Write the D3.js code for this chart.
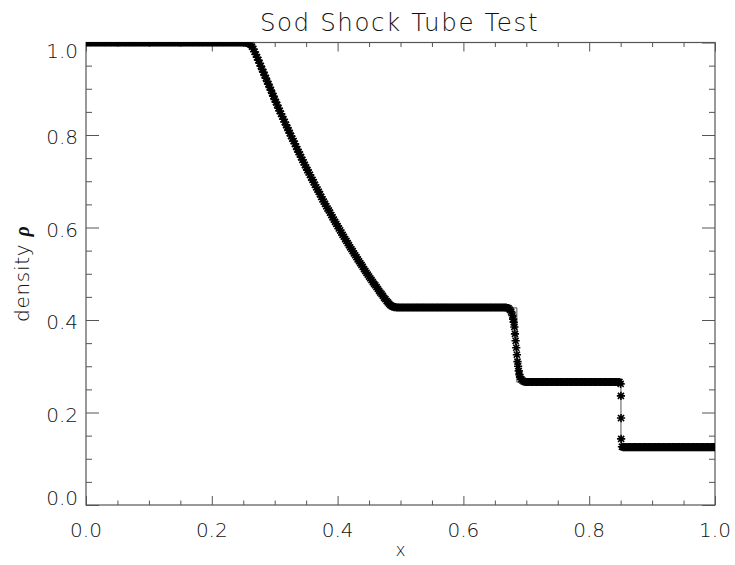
<!DOCTYPE html>
<html>
<head>
<meta charset="utf-8">
<script src="https://cdn.jsdelivr.net/npm/d3@7"></script>
<style>
  body { margin: 0; background: #fff; }
  text { font-family: "DejaVu Sans", "Liberation Sans", sans-serif; font-weight: 200; fill: #111; }
</style>
</head>
<body>
<svg id="chart" width="735" height="565"></svg>
<script>
// ---- labels ----
const chartTitle = "Sod Shock Tube Test";
const xTitle = "x";
const yTitle = "density ";
const yTitleSymbol = "ρ";
const majorTicks = [0.0, 0.2, 0.4, 0.6, 0.8, 1.0];
const minorTickStep = 0.05;

// ---- simulated cells: uniform grid, spacing 0.002 (501 cells) ----
const cellSpacing = 0.002;
const cellRho = [
  // x = 0.000 .. 0.254 : left state
  1.000, 1.000, 1.000, 1.000, 1.000, 1.000, 1.000, 1.000, 1.000, 1.000, 1.000, 1.000, 1.000, 1.000, 1.000, 1.000,
  1.000, 1.000, 1.000, 1.000, 1.000, 1.000, 1.000, 1.000, 1.000, 1.000, 1.000, 1.000, 1.000, 1.000, 1.000, 1.000,
  1.000, 1.000, 1.000, 1.000, 1.000, 1.000, 1.000, 1.000, 1.000, 1.000, 1.000, 1.000, 1.000, 1.000, 1.000, 1.000,
  1.000, 1.000, 1.000, 1.000, 1.000, 1.000, 1.000, 1.000, 1.000, 1.000, 1.000, 1.000, 1.000, 1.000, 1.000, 1.000,
  1.000, 1.000, 1.000, 1.000, 1.000, 1.000, 1.000, 1.000, 1.000, 1.000, 1.000, 1.000, 1.000, 1.000, 1.000, 1.000,
  1.000, 1.000, 1.000, 1.000, 1.000, 1.000, 1.000, 1.000, 1.000, 1.000, 1.000, 1.000, 1.000, 1.000, 1.000, 1.000,
  1.000, 1.000, 1.000, 1.000, 1.000, 1.000, 1.000, 1.000, 1.000, 1.000, 1.000, 1.000, 1.000, 1.000, 1.000, 1.000,
  1.000, 1.000, 1.000, 1.000, 1.000, 1.000, 1.000, 1.000, 1.000, 1.000, 1.000, 1.000, 1.000, 1.000, 1.000, 1.000,
  // x = 0.256 .. 0.282 : head of the rarefaction
  0.999, 0.998, 0.997, 0.995, 0.991, 0.986, 0.980, 0.974, 0.968, 0.962, 0.955, 0.949, 0.942, 0.936,
  // x = 0.284 .. 0.488 : rarefaction fan
  0.929, 0.923, 0.916, 0.910, 0.903, 0.897, 0.890, 0.884, 0.877, 0.871,
  0.865, 0.858, 0.852, 0.846, 0.840, 0.834, 0.828, 0.822, 0.816, 0.810,
  0.804, 0.798, 0.792, 0.787, 0.781, 0.775, 0.769, 0.763, 0.758, 0.752,
  0.746, 0.741, 0.735, 0.730, 0.724, 0.719, 0.714, 0.708, 0.703, 0.698,
  0.692, 0.687, 0.682, 0.677, 0.672, 0.666, 0.661, 0.656, 0.651, 0.646,
  0.641, 0.637, 0.632, 0.627, 0.622, 0.617, 0.612, 0.608, 0.603, 0.598,
  0.594, 0.589, 0.584, 0.580, 0.575, 0.571, 0.566, 0.562, 0.557, 0.553,
  0.549, 0.544, 0.540, 0.536, 0.531, 0.527, 0.523, 0.519, 0.515, 0.510,
  0.506, 0.502, 0.498, 0.494, 0.490, 0.486, 0.482, 0.478, 0.475, 0.471,
  0.467, 0.463, 0.459, 0.456, 0.452, 0.448, 0.445, 0.441, 0.438, 0.435,
  0.432, 0.430, 0.429,
  // x = 0.490 .. 0.668 : post-rarefaction plateau
  0.428, 0.428,
  0.427, 0.427, 0.427, 0.427, 0.427, 0.427, 0.427, 0.427, 0.427, 0.427, 0.427,
  0.427, 0.427, 0.427, 0.427, 0.427, 0.427, 0.427, 0.427, 0.427, 0.427, 0.427,
  0.427, 0.427, 0.427, 0.427, 0.427, 0.427, 0.427, 0.427, 0.427, 0.427, 0.427,
  0.427, 0.427, 0.427, 0.427, 0.427, 0.427, 0.427, 0.427, 0.427, 0.427, 0.427,
  0.427, 0.427, 0.427, 0.427, 0.427, 0.427, 0.427, 0.427, 0.427, 0.427, 0.427,
  0.427, 0.427, 0.427, 0.427, 0.427, 0.427, 0.427, 0.427, 0.427, 0.427, 0.427,
  0.427, 0.427, 0.427, 0.427, 0.427, 0.427, 0.427, 0.427, 0.427, 0.427, 0.427,
  0.427, 0.427, 0.427, 0.427, 0.427, 0.427, 0.427, 0.427, 0.427, 0.427, 0.427,
  // x = 0.670 .. 0.698 : contact discontinuity
  0.426, 0.425, 0.422, 0.418, 0.410, 0.395, 0.370, 0.340, 0.310, 0.290, 0.277, 0.272, 0.269, 0.267, 0.266,
  // x = 0.700 .. 0.848 : post-shock plateau
  0.266, 0.266, 0.266, 0.266, 0.266, 0.266, 0.266, 0.266, 0.266, 0.266, 0.266, 0.266, 0.266, 0.266, 0.266,
  0.266, 0.266, 0.266, 0.266, 0.266, 0.266, 0.266, 0.266, 0.266, 0.266, 0.266, 0.266, 0.266, 0.266, 0.266,
  0.266, 0.266, 0.266, 0.266, 0.266, 0.266, 0.266, 0.266, 0.266, 0.266, 0.266, 0.266, 0.266, 0.266, 0.266,
  0.266, 0.266, 0.266, 0.266, 0.266, 0.266, 0.266, 0.266, 0.266, 0.266, 0.266, 0.266, 0.266, 0.266, 0.266,
  0.266, 0.266, 0.266, 0.266, 0.266, 0.266, 0.266, 0.266, 0.266, 0.266, 0.266, 0.266, 0.266, 0.266, 0.266,
  // x = 0.850, 0.852 : shock
  0.262, 0.126,
  // x = 0.854 .. 1.000 : right state
  0.125, 0.125, 0.125, 0.125, 0.125, 0.125, 0.125, 0.125, 0.125, 0.125, 0.125, 0.125, 0.125, 0.125, 0.125,
  0.125, 0.125, 0.125, 0.125, 0.125, 0.125, 0.125, 0.125, 0.125, 0.125, 0.125, 0.125, 0.125, 0.125, 0.125,
  0.125, 0.125, 0.125, 0.125, 0.125, 0.125, 0.125, 0.125, 0.125, 0.125, 0.125, 0.125, 0.125, 0.125, 0.125,
  0.125, 0.125, 0.125, 0.125, 0.125, 0.125, 0.125, 0.125, 0.125, 0.125, 0.125, 0.125, 0.125, 0.125, 0.125,
  0.125, 0.125, 0.125, 0.125, 0.125, 0.125, 0.125, 0.125, 0.125, 0.125, 0.125, 0.125, 0.125, 0.125
];

// refined cells around the contact discontinuity
const contactX   = [0.679, 0.681, 0.683, 0.685, 0.687, 0.689];
const contactRho = [0.402, 0.385, 0.355, 0.325, 0.300, 0.282];

// refined cells inside the shock
const shockX   = [0.8504, 0.8506, 0.8508];
const shockRho = [0.236, 0.188, 0.143];

// exact Riemann solution (thin line)
const exactX   = [0.0, 0.2634, 0.275, 0.300, 0.325, 0.350, 0.375, 0.400, 0.425, 0.450, 0.475, 0.486, 0.685, 0.685, 0.8505, 0.8505, 1.0];
const exactRho = [1.0, 1.000, 0.959, 0.877, 0.801, 0.730, 0.664, 0.603, 0.547, 0.494, 0.447, 0.4263, 0.4263, 0.2656, 0.2656, 0.125, 0.125];

// ---- layout ----
const svg = d3.select("#chart");
const plot = { left: 86, right: 715, top: 42.5, bottom: 505 };
const x = d3.scaleLinear().domain([0, 1]).range([plot.left, plot.right]);
const y = d3.scaleLinear().domain([0, 1]).range([plot.bottom, plot.top]);

const minorTicks = d3.range(0, 1 + 1e-9, minorTickStep).filter(v => !majorTicks.some(m => Math.abs(m - v) < 1e-9));
const axisColor = "#555";

svg.append("defs").append("clipPath").attr("id", "plotClip")
  .append("rect")
  .attr("x", plot.left).attr("y", plot.top)
  .attr("width", plot.right - plot.left).attr("height", plot.bottom - plot.top);

// ---- tick marks on all four sides, pointing inward ----
function tickAxis(axisFn, scale, values, len, translate) {
  const g = svg.append("g").attr("transform", translate)
    .call(axisFn(scale).tickValues(values).tickSize(len).tickFormat(""));
  g.select(".domain").remove();
  g.selectAll(".tick line").attr("stroke", axisColor).attr("stroke-width", 1);
  return g;
}
const xMajLen = 9, xMinLen = 4.5, yMajLen = 13, yMinLen = 6;
tickAxis(d3.axisTop, x, majorTicks, xMajLen, `translate(0,${plot.bottom})`);
tickAxis(d3.axisTop, x, minorTicks, xMinLen, `translate(0,${plot.bottom})`);
tickAxis(d3.axisBottom, x, majorTicks, xMajLen, `translate(0,${plot.top})`);
tickAxis(d3.axisBottom, x, minorTicks, xMinLen, `translate(0,${plot.top})`);
tickAxis(d3.axisRight, y, majorTicks, yMajLen, `translate(${plot.left},0)`);
tickAxis(d3.axisRight, y, minorTicks, yMinLen, `translate(${plot.left},0)`);
tickAxis(d3.axisLeft, y, majorTicks, yMajLen, `translate(${plot.right},0)`);
tickAxis(d3.axisLeft, y, minorTicks, yMinLen, `translate(${plot.right},0)`);

// frame
svg.append("rect")
  .attr("x", plot.left).attr("y", plot.top)
  .attr("width", plot.right - plot.left).attr("height", plot.bottom - plot.top)
  .attr("fill", "none").attr("stroke", axisColor).attr("stroke-width", 1.2);

// ---- tick labels ----
const fmt = d3.format(".1f");
svg.append("g").selectAll("text").data(majorTicks).join("text")
  .attr("x", d => x(d)).attr("y", 537)
  .attr("text-anchor", "middle").attr("font-size", 20)
  .text(fmt);

svg.append("g").selectAll("text").data(majorTicks).join("text")
  .attr("x", 78)
  .attr("y", d => Math.min(plot.bottom, Math.max(plot.top + 15.5, y(d) + 9)))
  .attr("text-anchor", "end").attr("font-size", 20)
  .text(fmt);

// ---- titles ----
svg.append("text")
  .attr("x", (plot.left + plot.right) / 2 - 1).attr("y", 30.5)
  .attr("text-anchor", "middle").attr("font-size", 24.5)
  .attr("letter-spacing", 1.6)
  .text(chartTitle);

svg.append("text")
  .attr("x", (plot.left + plot.right) / 2).attr("y", 556)
  .attr("text-anchor", "middle").attr("font-size", 17)
  .text(xTitle);

const yt = svg.append("text")
  .attr("transform", `translate(29,${(plot.top + plot.bottom) / 2}) rotate(-90)`)
  .attr("text-anchor", "middle").attr("font-size", 20)
  .attr("letter-spacing", 0.7);
yt.append("tspan").text(yTitle);
yt.append("tspan").attr("font-style", "italic").attr("font-weight", 700)
  .attr("font-family", "Liberation Serif, serif").text(yTitleSymbol);

// ---- data ----
const dataLayer = svg.append("g").attr("clip-path", "url(#plotClip)");

const exactLine = d3.line().x((d, i) => x(exactX[i])).y((d, i) => y(exactRho[i]));
dataLayer.append("path")
  .attr("d", exactLine(exactX))
  .attr("fill", "none").attr("stroke", "#555").attr("stroke-width", 1);

const cells = cellRho.map((r, i) => ({ x: i * cellSpacing, rho: r }))
  .concat(contactX.map((v, i) => ({ x: v, rho: contactRho[i] })))
  .concat(shockX.map((v, i) => ({ x: v, rho: shockRho[i] })));

// asterisk marker: a "+" and an "x" overlaid
const s = 3.3, d = s * 0.75;
const asterisk = `M${-s},0H${s}M0,${-s}V${s}M${-d},${-d}L${d},${d}M${-d},${d}L${d},${-d}`;
dataLayer.append("g").selectAll("path").data(cells).join("path")
  .attr("transform", c => `translate(${x(c.x)},${y(c.rho)})`)
  .attr("d", asterisk)
  .attr("fill", "none").attr("stroke", "#000")
  .attr("stroke-width", 1.6).attr("stroke-linecap", "square");
</script>
</body>
</html>
